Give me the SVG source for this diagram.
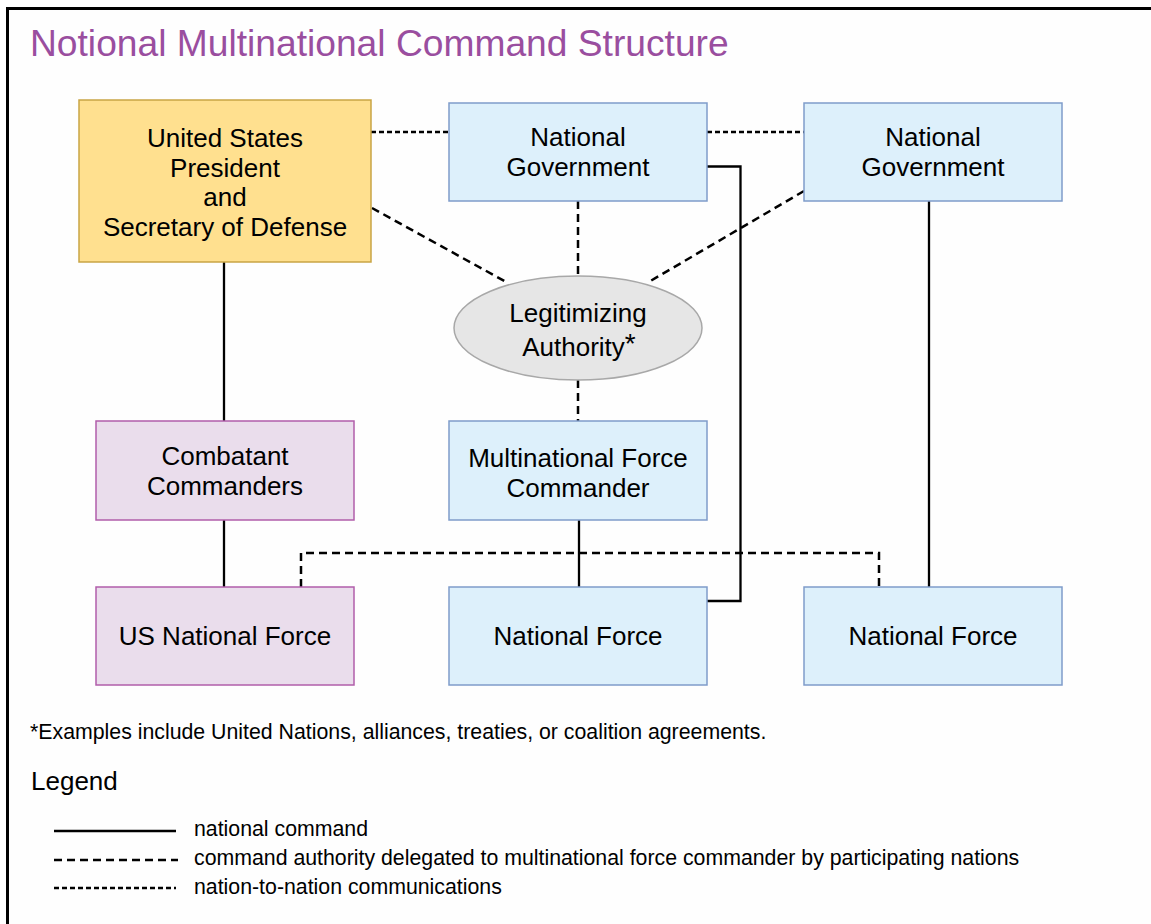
<svg xmlns="http://www.w3.org/2000/svg" width="1151" height="924" viewBox="0 0 1151 924">
<style>
  text { font-family: "Liberation Sans", Arial, sans-serif; fill: #000; }
  .box text, .lbl { font-size: 26px; text-anchor: middle; }
  .blue { fill: #DDF0FB; stroke: #7F9CCA; stroke-width: 1.5; }
  .gold { fill: #FFE08F; stroke: #C9A545; stroke-width: 1.5; }
  .purple { fill: #EADDEC; stroke: #B15EAA; stroke-width: 1.5; }
  .oval { fill: #E6E6E6; stroke: #A8A8A8; stroke-width: 1.5; }
  .solid { stroke: #000; stroke-width: 2.3; fill: none; }
  .dash { stroke: #000; stroke-width: 2.5; fill: none; stroke-dasharray: 8 5; }
  .dot { stroke: #000; stroke-width: 2.5; fill: none; stroke-dasharray: 5 3; }
  .small { font-size: 21.3px; }
</style>
<rect x="0" y="0" width="1151" height="924" fill="#FFFFFF"/>
<rect id="frame" x="7.5" y="8.5" width="1200" height="1000" fill="#FEFEFE" stroke="#000" stroke-width="3"/>
<text x="30" y="56" style="font-size:37.2px; fill:#9A4E9F">Notional Multinational Command Structure</text>

<g id="connectors">
  <line class="dot" x1="371" y1="132" x2="449" y2="132"/>
  <line class="dot" x1="707" y1="132" x2="804" y2="132"/>
  <line class="dash" x1="372" y1="208" x2="508" y2="283"/>
  <line class="dash" x1="578" y1="201" x2="578" y2="276"/>
  <line class="dash" x1="804" y1="191" x2="647" y2="283"/>
  <line class="dash" x1="578" y1="380" x2="578" y2="421"/>
  <line class="solid" x1="224" y1="262" x2="224" y2="421"/>
  <line class="solid" x1="224" y1="520" x2="224" y2="587"/>
  <line class="solid" x1="579" y1="520" x2="579" y2="587"/>
  <polyline class="solid" points="707,166.5 740.5,166.5 740.5,601 707,601"/>
  <line class="solid" x1="929" y1="201" x2="929" y2="587"/>
  <polyline class="dash" points="301,587 301,553 879,553 879,587"/>
</g>

<g id="us-president" class="box">
  <rect class="gold" x="79" y="100" width="292" height="162"/>
  <text x="225" y="147">United States</text>
  <text x="225" y="176.5">President</text>
  <text x="225" y="206">and</text>
  <text x="225" y="235.5">Secretary of Defense</text>
</g>
<g id="national-government-1" class="box">
  <rect class="blue" x="449" y="103" width="258" height="98"/>
  <text x="578" y="146">National</text>
  <text x="578" y="176">Government</text>
</g>
<g id="national-government-2" class="box">
  <rect class="blue" x="804" y="103" width="258" height="98"/>
  <text x="933" y="146">National</text>
  <text x="933" y="176">Government</text>
</g>
<g id="legitimizing-authority" class="box">
  <ellipse class="oval" cx="578" cy="328" rx="124" ry="52"/>
  <text x="578" y="322">Legitimizing</text>
  <text x="579" y="356">Authority<tspan style="font-size:28px" dy="-3">*</tspan></text>
</g>
<g id="combatant-commanders" class="box">
  <rect class="purple" x="96" y="421" width="258" height="99"/>
  <text x="225" y="465">Combatant</text>
  <text x="225" y="495">Commanders</text>
</g>
<g id="multinational-force-commander" class="box">
  <rect class="blue" x="449" y="421" width="258" height="99"/>
  <text x="578" y="467">Multinational Force</text>
  <text x="578" y="497">Commander</text>
</g>
<g id="us-national-force" class="box">
  <rect class="purple" x="96" y="587" width="258" height="98"/>
  <text x="225" y="645">US National Force</text>
</g>
<g id="national-force-1" class="box">
  <rect class="blue" x="449" y="587" width="258" height="98"/>
  <text x="578" y="645">National Force</text>
</g>
<g id="national-force-2" class="box">
  <rect class="blue" x="804" y="587" width="258" height="98"/>
  <text x="933" y="645">National Force</text>
</g>

<text class="small" x="30" y="739">*Examples include United Nations, alliances, treaties, or coalition agreements.</text>

<g id="legend">
  <text x="31" y="790" style="font-size:26px">Legend</text>
  <line class="solid" x1="54" y1="831" x2="176" y2="831"/>
  <text class="small" x="194" y="836">national command</text>
  <line class="dash" x1="54" y1="860" x2="178" y2="860"/>
  <text class="small" x="194" y="865">command authority delegated to multinational force commander by participating nations</text>
  <line class="dot" x1="54" y1="888" x2="176" y2="888"/>
  <text class="small" x="194" y="894">nation-to-nation communications</text>
</g>
</svg>
